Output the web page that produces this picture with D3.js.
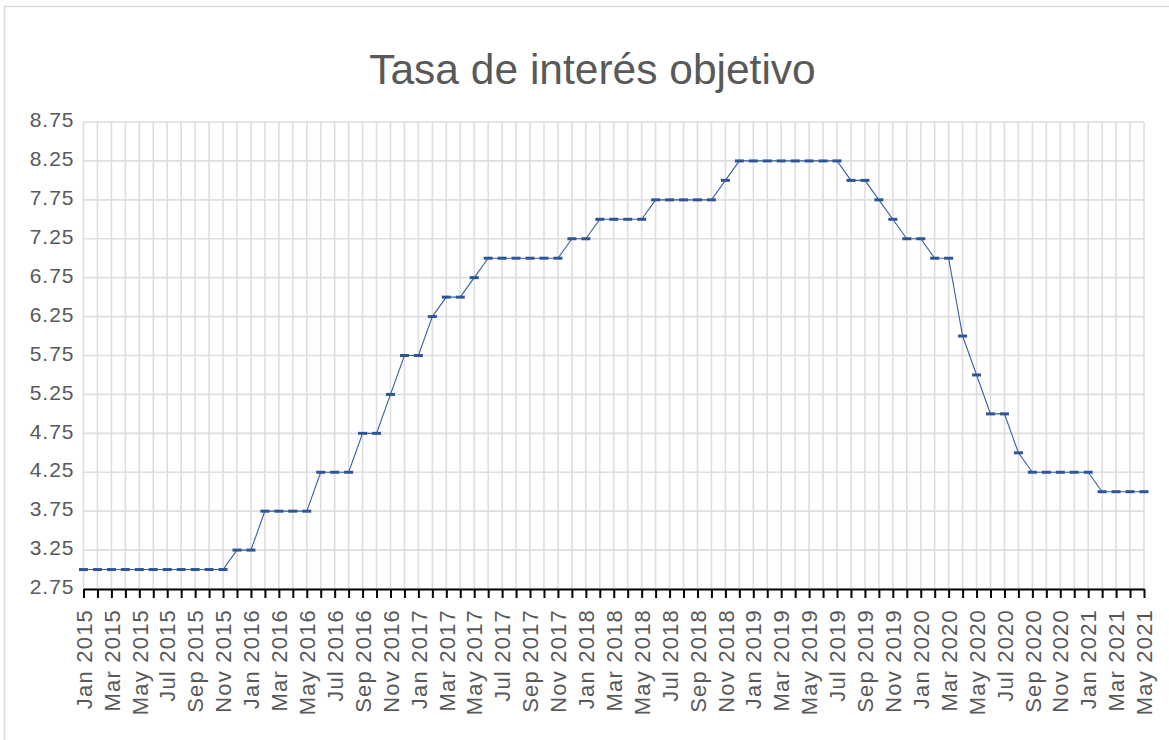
<!DOCTYPE html>
<html>
<head>
<meta charset="utf-8">
<script src="https://cdn.jsdelivr.net/npm/d3@7"></script>
<style>
  body { margin: 0; background: #fff; }
  svg { display: block; font-family: "Liberation Sans", Arial, sans-serif; }
</style>
</head>
<body>
<div id="chart"></div>
<script>
// chart data
var title = 'Tasa de interés objetivo';
var monthNames = ['Jan', 'Feb', 'Mar', 'Apr', 'May', 'Jun', 'Jul', 'Aug', 'Sep', 'Oct', 'Nov', 'Dec'];
var years = [2015, 2016, 2017, 2018, 2019, 2020, 2021];
var lastMonth = 'May 2021';
var rates = [
  3.0, 3.0, 3.0, 3.0, 3.0, 3.0, 3.0, 3.0, 3.0, 3.0, 3.0, 3.25,   // 2015
  3.25, 3.75, 3.75, 3.75, 3.75, 4.25, 4.25, 4.25, 4.75, 4.75, 5.25, 5.75, // 2016
  5.75, 6.25, 6.5, 6.5, 6.75, 7.0, 7.0, 7.0, 7.0, 7.0, 7.0, 7.25,  // 2017
  7.25, 7.5, 7.5, 7.5, 7.5, 7.75, 7.75, 7.75, 7.75, 7.75, 8.0, 8.25, // 2018
  8.25, 8.25, 8.25, 8.25, 8.25, 8.25, 8.25, 8.0, 8.0, 7.75, 7.5, 7.25, // 2019
  7.25, 7.0, 7.0, 6.0, 5.5, 5.0, 5.0, 4.5, 4.25, 4.25, 4.25, 4.25, // 2020
  4.25, 4.0, 4.0, 4.0, 4.0 // 2021
];
var yTicks = [2.75, 3.25, 3.75, 4.25, 4.75, 5.25, 5.75, 6.25, 6.75, 7.25, 7.75, 8.25, 8.75];

// month categories
var months = [];
years.forEach(function (yr) {
  monthNames.forEach(function (m) {
    if (months.indexOf(lastMonth) < 0) months.push(m + ' ' + yr);
  });
});

var width = 1169, height = 740;
var plotLeft = 83.5, plotRight = 1144, plotTop = 122, plotBottom = 589;
var textColor = '#595959';
var lineColor = '#3a5ea3';

var svg = d3.select('#chart')
  .append('svg')
  .attr('width', width)
  .attr('height', height);

// outer frame
svg.append('rect')
  .attr('x', 4.5)
  .attr('y', 6.5)
  .attr('width', width + 10)
  .attr('height', height + 10)
  .attr('fill', 'none')
  .attr('stroke', '#d9d9d9')
  .attr('stroke-width', 1.5);

svg.append('text')
  .attr('x', 592.5)
  .attr('y', 84)
  .attr('text-anchor', 'middle')
  .attr('fill', textColor)
  .style('font-size', '42.5px')
  .text(title);

var x = d3.scalePoint().domain(months).range([plotLeft, plotRight]);
var y = d3.scaleLinear().domain([2.75, 8.75]).range([plotBottom, plotTop]);

// grid
var grid = svg.append('g').attr('stroke', '#dedede').attr('stroke-width', 1.6);
grid.selectAll('.vgrid')
  .data(months)
  .enter()
  .append('line')
  .attr('x1', function (d) { return x(d); })
  .attr('x2', function (d) { return x(d); })
  .attr('y1', plotTop)
  .attr('y2', plotBottom);
grid.selectAll('.hgrid')
  .data(yTicks)
  .enter()
  .append('line')
  .attr('x1', plotLeft)
  .attr('x2', plotRight)
  .attr('y1', function (d) { return y(d); })
  .attr('y2', function (d) { return y(d); });

// y axis labels
var yAxis = svg.append('g')
  .attr('transform', 'translate(' + (plotLeft + 1) + ',-2)')
  .call(d3.axisLeft(y).tickValues(yTicks).tickSize(0).tickPadding(10).tickFormat(d3.format('.2f')));
yAxis.select('.domain').remove();
yAxis.selectAll('text')
  .attr('fill', textColor)
  .style('font-size', '21px')
  .style('letter-spacing', '1px')
  .style('font-family', '"Liberation Sans", Arial, sans-serif');

// x axis
var xAxis = svg.append('g')
  .attr('transform', 'translate(0,' + plotBottom + ')')
  .call(d3.axisBottom(x).tickSize(9).tickSizeOuter(0).tickFormat(function (d, i) {
    return i % 2 === 0 ? d : '';
  }));
xAxis.select('.domain').attr('stroke', '#000').attr('stroke-width', 2);
xAxis.selectAll('.tick line').attr('stroke', '#000').attr('stroke-width', 2);
xAxis.selectAll('text')
  .attr('fill', textColor)
  .attr('y', 0)
  .attr('dy', '0.35em')
  .attr('text-anchor', 'end')
  .attr('transform', 'translate(0,20) rotate(-90)')
  .style('font-size', '22px')
  .style('letter-spacing', '1.2px')
  .style('font-family', '"Liberation Sans", Arial, sans-serif');

// line
svg.append('path')
  .datum(rates)
  .attr('fill', 'none')
  .attr('stroke', lineColor)
  .attr('stroke-width', 1.1)
  .attr('d', d3.line()
    .x(function (d, i) { return x(months[i]); })
    .y(function (d) { return y(d); }));

// dash markers
svg.append('g')
  .selectAll('rect')
  .data(rates)
  .enter()
  .append('rect')
  .attr('x', function (d, i) { return x(months[i]) - 4.5; })
  .attr('y', function (d) { return y(d) - 1.5; })
  .attr('width', 9)
  .attr('height', 3)
  .attr('fill', '#2f5597');
</script>
</body>
</html>
